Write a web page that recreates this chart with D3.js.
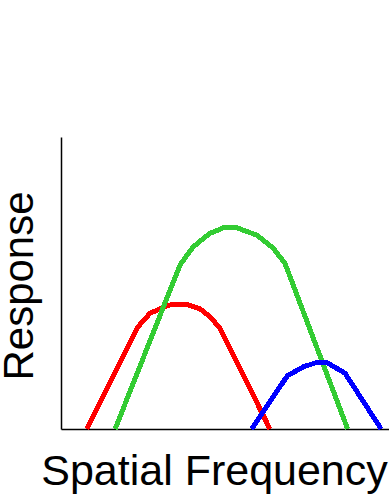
<!DOCTYPE html>
<html>
<head>
<meta charset="utf-8">
<script src="https://cdn.jsdelivr.net/npm/d3@7"></script>
<style>
  body { margin: 0; background: #fff; }
  svg { display: block; }
  text { font-family: "Liberation Sans", Arial, sans-serif; fill: #000; }
</style>
</head>
<body>
<div id="chart"></div>
<script>
// channel response curves (x and y in arbitrary units 0-100)
const redX   = [7.9, 23.3, 27.1, 32.2, 34.2, 38.3, 42.4, 45.4, 48.5, 63.7];
const redY   = [0, 34.8, 39.6, 42.2, 42.7, 42.7, 41.1, 38.5, 34.5, 0];
const greenX = [16.5, 36.3, 40.3, 45.4, 49.5, 53.6, 59.7, 64.7, 68.3, 87.4];
const greenY = [0, 56.2, 62.4, 67.0, 68.9, 68.9, 66.4, 61.9, 56.7, 0];
const blueX  = [58.1, 69.0, 73.9, 78.0, 81.0, 86.6, 97.6];
const blueY  = [0, 18.2, 21.3, 22.8, 22.8, 19.1, 0];

const xLabel = "Spatial Frequency";
const yLabel = "Response";

var width = 389, height = 497;
var margin = {top: 137, right: 0, bottom: 68, left: 61};

var svg = d3.select("#chart").append("svg")
    .attr("width", width)
    .attr("height", height);

var x = d3.scaleLinear().domain([0, 100]).range([margin.left, width - margin.right]);
var y = d3.scaleLinear().domain([0, 100]).range([height - margin.bottom, margin.top]);

// bare axes, no ticks
svg.append("g")
    .attr("transform", "translate(0," + y(0) + ")")
    .call(d3.axisBottom(x).ticks(0).tickSizeOuter(0))
    .select(".domain").attr("stroke", "#000").attr("stroke-width", 1.5);

svg.append("g")
    .attr("transform", "translate(" + x(0) + ",0)")
    .call(d3.axisLeft(y).ticks(0).tickSizeOuter(0))
    .select(".domain").attr("stroke", "#000").attr("stroke-width", 1.5);

var line = d3.line()
    .x(function(d) { return x(d[0]); })
    .y(function(d) { return y(d[1]); });

var curves = [
    {xs: redX, ys: redY, color: "#ff0000"},
    {xs: greenX, ys: greenY, color: "#33cc33"},
    {xs: blueX, ys: blueY, color: "#0000ff"}
];

curves.forEach(function(c) {
    svg.append("path")
        .datum(d3.zip(c.xs, c.ys))
        .attr("d", line)
        .attr("fill", "none")
        .attr("stroke", c.color)
        .attr("stroke-width", 5)
        .attr("shape-rendering", "crispEdges");
});

// axis labels
svg.append("text")
    .attr("x", 214.5)
    .attr("y", 485)
    .attr("text-anchor", "middle")
    .style("font-size", "43px")
    .text(xLabel);

svg.append("text")
    .attr("transform", "translate(33,286) rotate(-90)")
    .attr("text-anchor", "middle")
    .style("font-size", "42px")
    .text(yLabel);
</script>
</body>
</html>
